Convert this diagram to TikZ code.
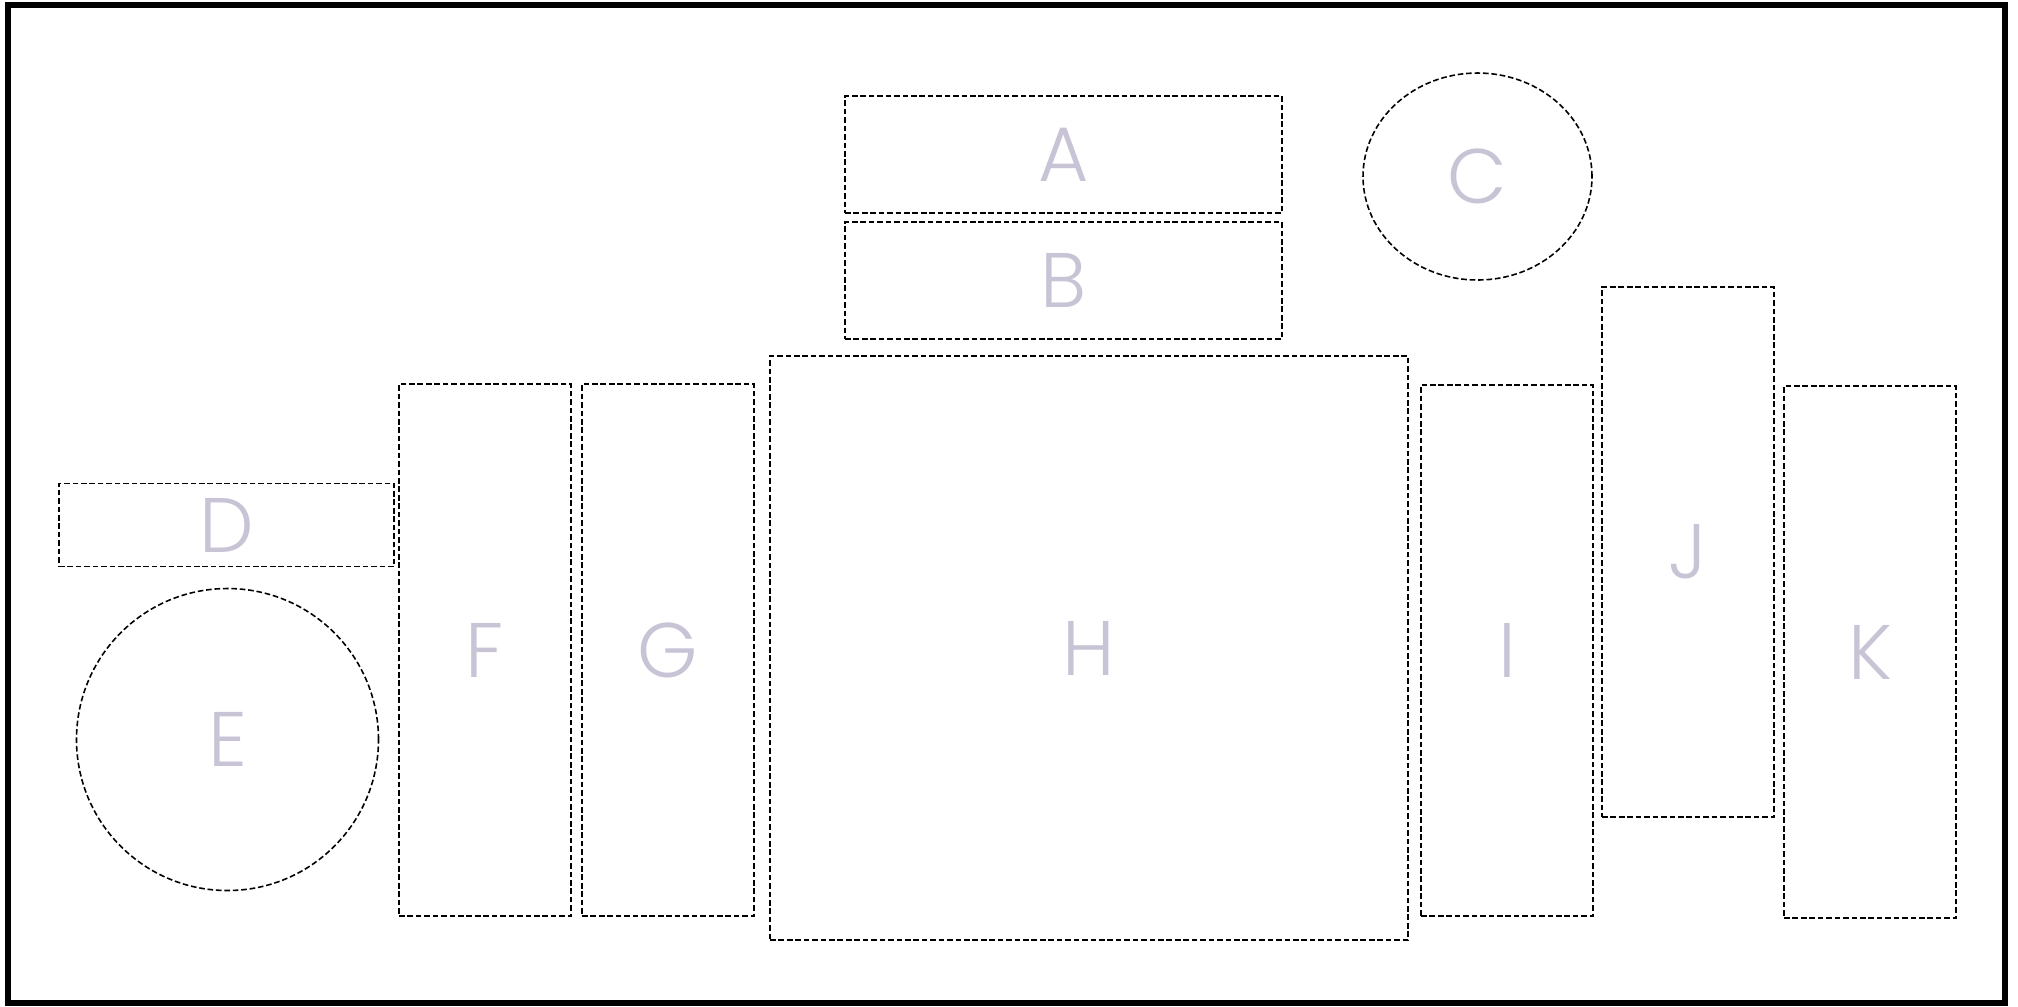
\documentclass[tikz,border=0pt]{standalone}
\usepackage{fontspec}
\setmainfont{Poppins}[UprightFont=* Light]
\usepackage{tikz}
\usetikzlibrary{positioning, shapes.geometric}
\definecolor{lettergray}{RGB}{200,196,214}

\begin{document}
\begin{tikzpicture}[
      node distance=0.1cm and 0.1cm,
      every node/.append style={font=\fontsize{22}{26}\selectfont, text=lettergray},
      zone/.style={draw, line width=0.45pt, dash pattern=on 1.6pt off 0.8pt,
                   inner sep=0pt, outer sep=0pt},
      box/.style={zone, rectangle},
      tallbox/.style={box, minimum width=1.72cm, minimum height=5.32cm},
      round/.style={zone, ellipse},
    ]
      \useasboundingbox (0,0) rectangle (20.18,-10.06);
      \draw[line width=0.06cm] (0.08,-0.05) rectangle (20.05,-10.03);

      % middle row
      \node[box, minimum width=6.38cm, minimum height=5.84cm] (H) at (10.89,-6.48) {H};
      \node[tallbox, left=0.16cm of H, yshift=-0.02cm] (G) {G};
      \node[tallbox, left=0.11cm of G] (F) {F};
      \node[tallbox, minimum height=5.31cm, right=0.13cm of H, yshift=-0.025cm] (I) {I};
      \node[tallbox, minimum height=5.30cm, right=0.09cm of I, yshift=0.985cm] (J) {J};
      \node[tallbox, right=0.10cm of J, yshift=-1.0cm] (K) {K};

      % top
      \node[box, minimum width=4.37cm, minimum height=1.17cm, above=0.17cm of H, xshift=-0.255cm] (B) {B};
      \node[box, minimum width=4.37cm, minimum height=1.17cm, above=0.09cm of B] (A) {A};
      \node[round, minimum width=2.29cm, minimum height=2.07cm] (C) at (14.775,-1.765) {C};

      % left
      \node[round, minimum width=3.02cm, minimum height=3.02cm] (E) at (2.275,-7.395) {E};
      \node[box, minimum width=3.35cm, minimum height=0.83cm, above=0.22cm of E, xshift=-0.01cm] (D) {D};
    \end{tikzpicture}
\end{document}
